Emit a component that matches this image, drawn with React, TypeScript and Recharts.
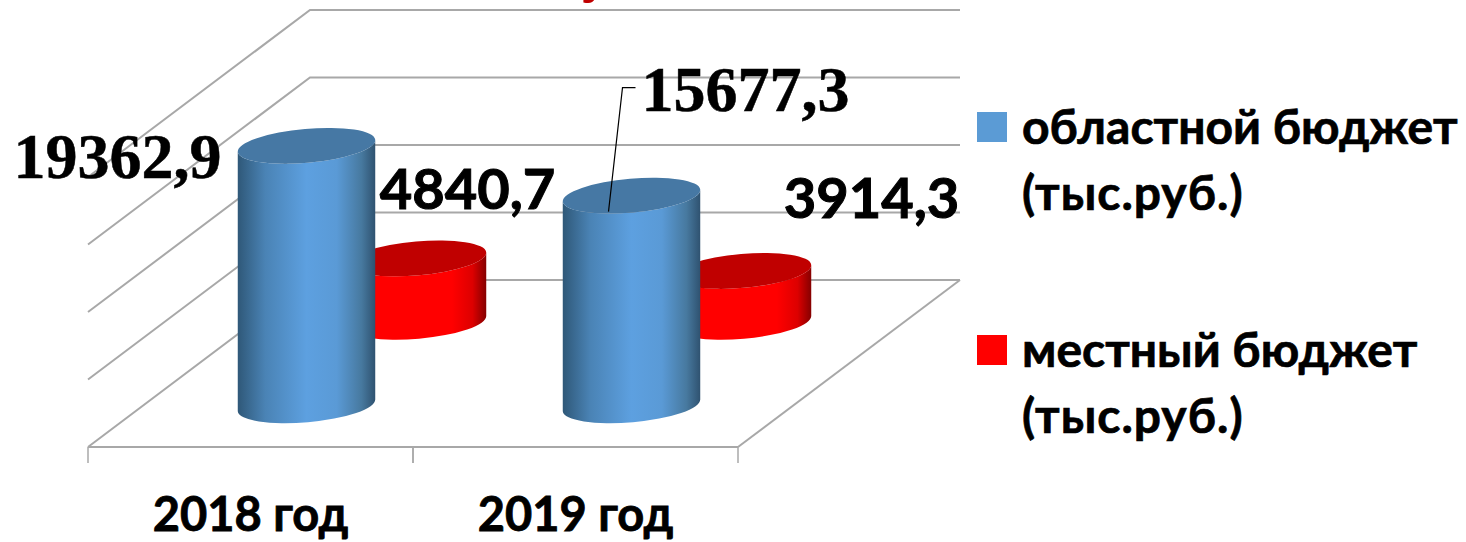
import React from "react";
import { BarChart, Bar, XAxis, YAxis, Legend, LabelList, CartesianGrid } from "recharts";

const categories = ["2018 год", "2019 год"];
const regionalValues = [19362.9, 15677.3];
const localValues = [4840.7, 3914.3];
const yTicks = [0, 5000, 10000, 15000, 20000];
const legendNames = ["областной бюджет", "местный бюджет"];
const legendUnit = "(тыс.руб.)";
const regionalLabels = ["19362,9", "15677,3"];
const localLabels = ["4840,7", "3914,3"];

const data = categories.map((c, i) => ({ name: c, regional: regionalValues[i], local: localValues[i] }));

const W = 1466, H = 542;
const LEFT = 88, RIGHT_X = 738, TOP = 177, BOTTOM = 447;
const DEPTH_X = 222, DEPTH_Y = 167, BACK_RIGHT = 960;
const GRID = "#a8a8a8";
const SANS = "Lato, Carlito, 'Open Sans', sans-serif";
const SERIF = "'Liberation Serif', serif";
const BLUE = "#5b9bd5", RED = "#ff0000";

const TILT = 5 * Math.PI / 180;
const RY = 17;
const CAP_DROP = 2;

const makeCylinder = (depth: number, fill: string, top: string) => (p: any) => {
  const rx = p.width / 2;
  const cx = p.x + rx + DEPTH_X * depth;
  const by = p.y + p.height - DEPTH_Y * depth;
  const ty = p.y - DEPTH_Y * depth + CAP_DROP;
  const ex = rx * Math.cos(TILT), ey = rx * Math.sin(TILT);
  const deg = -5;
  const body = `M${cx - ex},${ty + ey} L${cx - ex},${by + ey} A${rx},${RY} ${deg} 0 0 ${cx + ex},${by - ey} L${cx + ex},${ty - ey} A${rx},${RY} ${deg} 0 1 ${cx - ex},${ty + ey} Z`;
  return (
    <g>
      <path d={body} fill={`url(#${fill})`} />
      <ellipse cx={cx} cy={ty} rx={rx} ry={RY} fill={top} transform={`rotate(${deg} ${cx} ${ty})`} />
    </g>
  );
};

const regionalOffsets = [{ dx: -189, dy: 34 }, { dx: 114, dy: -83 }];
const localOffsets = [{ dx: 50, dy: -47 }, { dx: 129, dy: -51 }];

const makeLabel = (depth: number, labels: string[], offsets: { dx: number; dy: number }[], family: string, size: number, leader: number, thick: number) => (p: any) => {
  const i = p.index;
  const cx = p.x + p.width / 2 + DEPTH_X * depth;
  const ty = p.y - DEPTH_Y * depth;
  const o = offsets[i];
  return (
    <g>
      {i === leader && (
        <polyline points={`${cx - 23},${ty + 18} ${cx - 9},${ty - 106} ${cx + 4},${ty - 106}`} fill="none" stroke="#000" strokeWidth={1.2} />
      )}
      <text x={cx + o.dx} y={ty + o.dy} textAnchor="middle" fontFamily={family} fontWeight={700} fontSize={size} fill="#000" stroke="#000" strokeWidth={thick}>{labels[i]}</text>
    </g>
  );
};

const WallLine = (p: any) => {
  const y = p.y1;
  return (
    <g key={`wall-${y}`}>
      <polyline points={`${LEFT},${y} ${LEFT + DEPTH_X},${y - DEPTH_Y} ${BACK_RIGHT},${y - DEPTH_Y}`} fill="none" stroke={GRID} strokeWidth={2} />
      {y >= BOTTOM - 0.5 && <line x1={RIGHT_X} y1={y} x2={BACK_RIGHT} y2={y - DEPTH_Y} stroke={GRID} strokeWidth={2} />}
    </g>
  );
};

const band = (RIGHT_X - LEFT) / categories.length;
const CategoryTick = (p: any) => (
  <g>
    <line x1={p.x - band / 2} x2={p.x - band / 2} y1={p.y} y2={p.y + 16} stroke={GRID} strokeWidth={1.5} />
    <line x1={p.x + band / 2} x2={p.x + band / 2} y1={p.y} y2={p.y + 16} stroke={GRID} strokeWidth={1.5} />
    <text x={p.x} y={p.y + 84} textAnchor="middle" fontFamily={SANS} fontWeight={700} fontSize={47} fill="#000" stroke="#000" strokeWidth={0.8}>{p.payload.value}</text>
  </g>
);

const NoTick = () => <g />;

const LegendBlock = () => (
  <div style={{ position: "absolute", left: 977, top: 0, fontFamily: SANS, fontWeight: 700, fontSize: 48, lineHeight: "66px", color: "#000", whiteSpace: "nowrap", WebkitTextStroke: "0.7px #000" }}>
    {[BLUE, RED].map((c, i) => (
      <div key={c} style={{ position: "absolute", left: 0, top: i === 0 ? 93 : 316 }}>
        <div style={{ position: "absolute", left: 0, top: 19, width: 30, height: 30, background: c }} />
        <div style={{ marginLeft: 45 }}>{legendNames[i]}<br /><span style={{ letterSpacing: 1 }}>{legendUnit}</span></div>
      </div>
    ))}
  </div>
);

export default function App() {
  return (
    <div style={{ position: "absolute", left: 0, top: 0, width: W, height: H, background: "#fff", overflow: "hidden" }}>
      <BarChart width={W} height={H} data={data} margin={{ top: TOP, bottom: 0, left: LEFT - 1, right: W - RIGHT_X }} barSize={138} barGap={-138}>
        <defs>
          <linearGradient id="blueBody" x1="0" x2="1" y1="0" y2="0">
            <stop offset="0" stopColor="#2f5878" />
            <stop offset="0.2" stopColor="#4a83b5" />
            <stop offset="0.5" stopColor="#5da0e0" />
            <stop offset="0.72" stopColor="#5a9ad6" />
            <stop offset="0.9" stopColor="#47799f" />
            <stop offset="1" stopColor="#2f5270" />
          </linearGradient>
          <linearGradient id="redBody" x1="0" x2="1" y1="0" y2="0">
            <stop offset="0" stopColor="#d00000" />
            <stop offset="0.2" stopColor="#ff0000" />
            <stop offset="0.75" stopColor="#ff0000" />
            <stop offset="0.9" stopColor="#dd0000" />
            <stop offset="1" stopColor="#850000" />
          </linearGradient>
        </defs>
        <text x={597} y={-10} textAnchor="middle" fontFamily={SERIF} fontWeight={700} fontSize={60} fill="#c00000">у</text>
        <CartesianGrid vertical={false} horizontal={WallLine} horizontalValues={yTicks} />
        <YAxis width={1} domain={[0, 20000]} ticks={yTicks} axisLine={false} tickLine={false} tick={NoTick} interval={0} />
        <XAxis dataKey="name" height={H - BOTTOM} axisLine={{ stroke: GRID, strokeWidth: 2 }} tickLine={false} tickSize={0} tickMargin={0} tick={CategoryTick} interval={0} />
        <Legend content={LegendBlock} wrapperStyle={{ left: 0, top: 0, bottom: "auto", width: W, height: 0 }} />
        <Bar dataKey="local" name={legendNames[1]} fill={RED} isAnimationActive={false} shape={makeCylinder(0.75, "redBody", "#c00000")}>
          <LabelList dataKey="local" content={makeLabel(0.75, localLabels, localOffsets, SANS, 56, -1, 1)} />
        </Bar>
        <Bar dataKey="regional" name={legendNames[0]} fill={BLUE} isAnimationActive={false} shape={makeCylinder(0.25, "blueBody", "#4678a4")}>
          <LabelList dataKey="regional" content={makeLabel(0.25, regionalLabels, regionalOffsets, SERIF, 64, 1, 0.5)} />
        </Bar>
      </BarChart>
    </div>
  );
}
